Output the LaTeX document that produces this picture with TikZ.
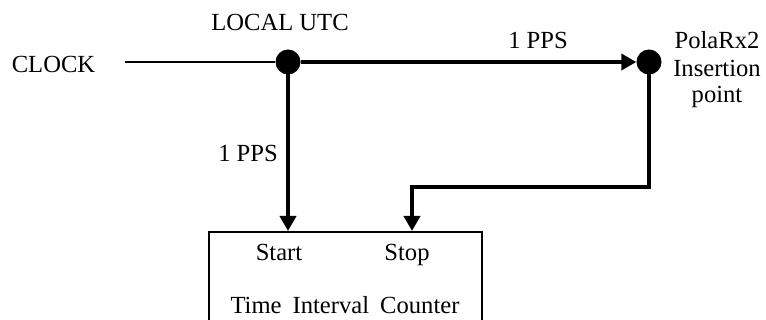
\documentclass[tikz,border=0pt]{standalone}
\usepackage{fontspec}
\setmainfont{Liberation Serif}
\usetikzlibrary{arrows.meta}
\begin{document}
\begin{tikzpicture}[x=1pt,y=-1pt,
  lbl/.style={font=\fontsize{24.6}{27.5}\selectfont, inner sep=0pt, anchor=base},
  dot/.style={circle, fill=black, draw=none, minimum size=25pt, inner sep=0pt},
  thin/.style={line width=1.6pt},
  thickln/.style={line width=3.6pt},
  tip/.style={-{Triangle[length=15pt,width=16pt]}}]
\useasboundingbox (0,0) rectangle (766,320);
\clip (0,0) rectangle (766,320);
% nodes
\node[dot] (u) at (288,62) {};
\node[dot] (p) at (649,62) {};
\node[draw, line width=1.6pt, anchor=north west, minimum width=273pt, minimum height=110pt, inner sep=0pt] (box) at (208,231) {};
\node[lbl] (clock) at (53.5,72.5) {CLOCK};
\node[lbl] (utc) at (280,30.5) {LOCAL UTC};
\node[lbl] (ppstop) at (538,48.3) {1 PPS};
\node[lbl] (ppsleft) at (248,161.7) {1 PPS};
\node[lbl] (pola1) at (717,48.3) {PolaRx2};
\node[lbl] (pola2) at (717,76.5) {Insertion};
\node[lbl] (pola3) at (717,103) {point};
\node[lbl] (start) at (279,261) {Start};
\node[lbl] (stop) at (407,261) {Stop};
\node[lbl] (tic) at (345,314) {Time\hspace{0.45em}Interval\hspace{0.45em}Counter};
% connectors
\coordinate (cin) at (125,62);
\coordinate (bend) at (412,187);
\draw[thin] (cin) -- (u);
\draw[thickln, tip] (u) -- (p);
\draw[thickln, tip] (u.center) -- (u.center |- box.north);
\draw[thickln, tip, line join=miter] (p.center) |- (bend) -- (bend |- box.north);
\end{tikzpicture}
\end{document}
